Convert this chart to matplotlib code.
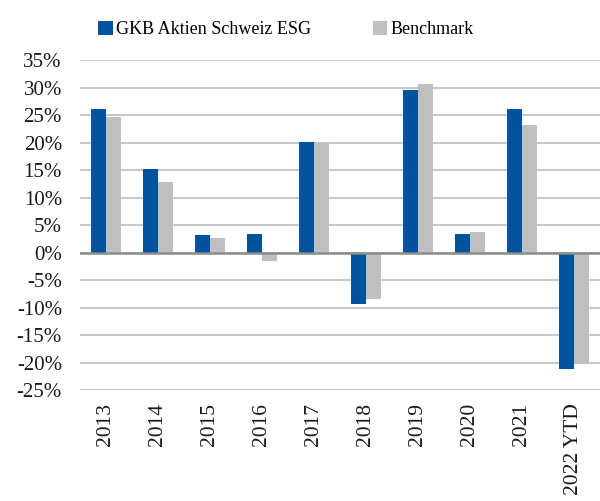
import matplotlib
matplotlib.use("Agg")
import matplotlib.pyplot as plt
import numpy as np

# yearly performance in percent
years = ["2013", "2014", "2015", "2016", "2017", "2018", "2019", "2020", "2021", "2022 YTD"]
fund = [26.1, 15.3, 3.2, 3.4, 20.2, -9.4, 29.5, 3.4, 26.2, -21.1]
benchmark = [24.6, 12.9, 2.6, -1.5, 19.9, -8.5, 30.6, 3.8, 23.3, -20.2]
y_ticks = [-25, -20, -15, -10, -5, 0, 5, 10, 15, 20, 25, 30, 35]

plt.rcParams['font.family'] = ['Liberation Serif', 'DejaVu Serif']

blue = '#00529c'
grey = '#bfbfbf'

fig = plt.figure(figsize=(6, 5.01), dpi=100)
ax = fig.add_axes([0.1333, 0.221, 0.8667, 0.659])

x = np.arange(len(years))
width = 0.29
ax.bar(x - width / 2, fund, width, color=blue, label='GKB Aktien Schweiz ESG', zorder=3)
ax.bar(x + width / 2, benchmark, width, color=grey, label='Benchmark', zorder=3)

ax.set_xlim(-0.5, len(years) - 0.5)
ax.set_ylim(-25, 35)
ax.set_yticks(y_ticks)
ax.set_yticklabels([str(t) + '%' for t in y_ticks], fontsize=15, color='#1a1a1a')
ax.set_xticks(x)
ax.set_xticklabels(years, rotation=90, fontsize=15.5, color='#1a1a1a')
ax.tick_params(length=0)
ax.tick_params(axis='y', pad=13)
ax.tick_params(axis='x', pad=9)

# grid and zero line
ax.grid(axis='y', color='#c8c8c8', linewidth=1.5, zorder=0)
ax.axhline(0, color='#8c8c8c', linewidth=1.8, zorder=4)
for s in ax.spines.values():
    s.set_visible(False)

fig.legend(loc='upper center', bbox_to_anchor=(0.477, 0.99), ncol=2, frameon=False,
           fontsize=13, handlelength=0.8, handleheight=0.8, handletextpad=0.2,
           columnspacing=3.4)

fig.savefig('out.png', dpi=100)
